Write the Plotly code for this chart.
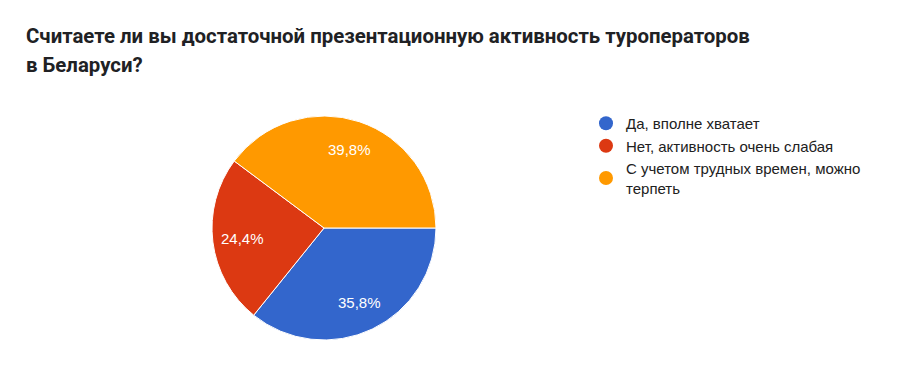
import math
import plotly.graph_objects as go

labels = ["Да, вполне хватает", "Нет, активность очень слабая", "С учетом трудных времен, можно терпеть"]
legend_labels = ["Да, вполне хватает", "Нет, активность очень слабая", "С учетом трудных времен, можно<br>терпеть"]
values = [35.8, 24.4, 39.8]
colors = ["#3366cc", "#dc3912", "#ff9900"]
title_lines = ["Считаете ли вы достаточной презентационную активность туроператоров", "в Беларуси?"]

W, H = 900, 377
OFF = 8  # default body margin of the html page
cx, cy, r = 324 - OFF, 228 - OFF, 112
start_deg = 90
label_r = 0.735

fig = go.Figure()
fig.add_trace(go.Pie(
    labels=labels, values=values, sort=False, direction="clockwise", rotation=start_deg,
    marker=dict(colors=colors, line=dict(color="white", width=1)),
    textinfo="none", showlegend=False, hoverinfo="label+percent",
    domain=dict(x=[(cx - r) / W, (cx + r) / W], y=[(H - cy - r) / H, (H - cy + r) / H]),
))
for lab, col in zip(legend_labels, colors):
    fig.add_trace(go.Scatter(x=[None], y=[None], mode="markers", name=lab,
                             marker=dict(symbol="circle", size=14, color=col)))

# percentage labels placed at the middle angle of each slice
total = sum(values)
acc = 0.0
for v in values:
    mid = math.radians(start_deg + (acc + v / 2) / total * 360)
    acc += v
    px = cx + label_r * r * math.sin(mid)
    py = cy - label_r * r * math.cos(mid)
    fig.add_annotation(text=f"{v / total * 100:.1f}%".replace(".", ","), x=px / W, y=1 - py / H,
                       xref="paper", yref="paper", xanchor="center", yanchor="middle", showarrow=False,
                       font=dict(family="Liberation Sans, Arial", size=15, color="white"))

fig.update_layout(
    width=W, height=H, margin=dict(l=0, r=0, t=0, b=0),
    paper_bgcolor="white", plot_bgcolor="white",
    xaxis=dict(visible=False), yaxis=dict(visible=False),
    legend=dict(x=(586 - OFF) / W, y=1 - (107 - OFF) / H, xanchor="left", yanchor="top",
                font=dict(family="Liberation Sans, Arial", size=15, color="#212121"),
                bgcolor="rgba(0,0,0,0)", tracegroupgap=0),
)
for i, line in enumerate(title_lines):
    fig.add_annotation(text="<b>" + line + "</b>", x=(24 - OFF) / W, y=1 - (36 + 29.4 * i - OFF) / H,
                       xref="paper", yref="paper", xanchor="left", yanchor="middle", showarrow=False,
                       font=dict(family="Roboto", size=20.4, color="#202124"))
fig.write_html("out.html")
